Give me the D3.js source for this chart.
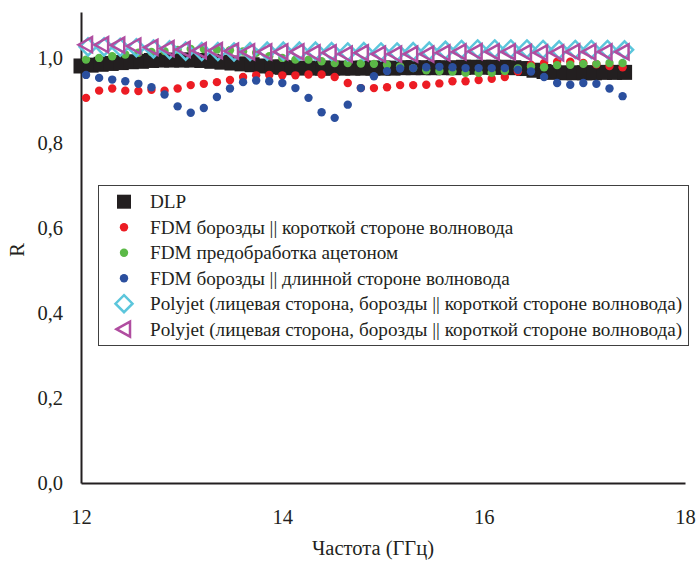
<!DOCTYPE html>
<html>
<head>
<meta charset="utf-8">
<script src="https://cdn.jsdelivr.net/npm/d3@7"></script>
<style>
  body { margin: 0; background: #fff; }
  text { font-family: "Liberation Serif", "DejaVu Serif", serif; fill: #231f20; }
</style>
</head>
<body>
<div id="chart"></div>
<script>
// частоты, ГГц
const dlpFreq = [12.0, 12.1, 12.2, 12.3, 12.4, 12.5, 12.6, 12.7, 12.8, 12.9,
	13.0, 13.1, 13.2, 13.3, 13.4, 13.5, 13.6, 13.7, 13.8, 13.9,
	14.0, 14.1, 14.2, 14.3, 14.4, 14.5, 14.6, 14.7, 14.8, 14.9,
	15.0, 15.1, 15.2, 15.3, 15.4, 15.5, 15.6, 15.7, 15.8, 15.9,
	16.0, 16.1, 16.2, 16.3, 16.4, 16.5, 16.6, 16.7, 16.8, 16.9,
	17.0, 17.1, 17.2, 17.3, 17.4];
const dlpR = [0.981, 0.983, 0.985, 0.987, 0.989, 0.991, 0.992, 0.994, 0.995, 0.995,
	0.995, 0.995, 0.994, 0.992, 0.990, 0.988, 0.986, 0.984, 0.981, 0.979,
	0.978, 0.977, 0.976, 0.976, 0.976, 0.976, 0.976, 0.976, 0.976, 0.976,
	0.976, 0.976, 0.977, 0.977, 0.977, 0.977, 0.977, 0.977, 0.978, 0.978,
	0.978, 0.978, 0.978, 0.977, 0.975, 0.971, 0.968, 0.966, 0.965, 0.965,
	0.965, 0.965, 0.966, 0.966, 0.966];

const fdmFreq = [12.05, 12.18, 12.31, 12.44, 12.57, 12.70, 12.83, 12.96, 13.09, 13.22,
	13.35, 13.48, 13.61, 13.74, 13.87, 14.00, 14.13, 14.26, 14.39, 14.52,
	14.65, 14.78, 14.91, 15.04, 15.17, 15.30, 15.43, 15.56, 15.69, 15.82,
	15.95, 16.08, 16.21, 16.34, 16.47, 16.60, 16.73, 16.86, 16.99, 17.12,
	17.25, 17.38];
const fdmShortR = [0.906, 0.923, 0.928, 0.923, 0.922, 0.925, 0.923, 0.928, 0.936, 0.939,
	0.943, 0.948, 0.955, 0.959, 0.960, 0.959, 0.959, 0.961, 0.961, 0.955,
	0.941, 0.929, 0.929, 0.931, 0.936, 0.936, 0.937, 0.940, 0.945, 0.945,
	0.948, 0.951, 0.955, 0.968, 0.984, 0.988, 0.991, 0.991, 0.988, 0.985,
	0.981, 0.978];
const fdmAcetoneR = [0.996, 1.000, 1.004, 1.008, 1.012, 1.014, 1.016, 1.019, 1.021, 1.021,
	1.020, 1.018, 1.015, 1.012, 1.004, 1.000, 0.996, 0.996, 0.992, 0.988,
	0.988, 0.987, 0.986, 0.984, 0.980, 0.976, 0.971, 0.969, 0.968, 0.965,
	0.965, 0.965, 0.969, 0.975, 0.980, 0.978, 0.983, 0.984, 0.986, 0.986,
	0.988, 0.988];
const fdmLongR = [0.960, 0.953, 0.949, 0.945, 0.939, 0.931, 0.914, 0.886, 0.871, 0.882,
	0.908, 0.928, 0.943, 0.947, 0.945, 0.941, 0.929, 0.906, 0.872, 0.859,
	0.890, 0.929, 0.957, 0.969, 0.975, 0.976, 0.978, 0.979, 0.978, 0.976,
	0.976, 0.976, 0.976, 0.972, 0.968, 0.955, 0.941, 0.937, 0.941, 0.939,
	0.928, 0.910];

const polyFreq = [12.05, 12.21, 12.37, 12.53, 12.70, 12.86, 13.02, 13.18, 13.34, 13.50,
	13.66, 13.83, 13.99, 14.15, 14.31, 14.47, 14.63, 14.79, 14.96, 15.12,
	15.28, 15.44, 15.60, 15.76, 15.92, 16.09, 16.25, 16.41, 16.57, 16.73,
	16.89, 17.05, 17.21, 17.38];
const polyDiamondR = [1.026, 1.026, 1.025, 1.024, 1.021, 1.019, 1.016, 1.015, 1.015, 1.014,
	1.015, 1.016, 1.016, 1.016, 1.016, 1.015, 1.014, 1.015, 1.014, 1.014,
	1.015, 1.016, 1.018, 1.020, 1.021, 1.021, 1.021, 1.021, 1.020, 1.019,
	1.020, 1.020, 1.020, 1.019];
const polyTriangleR = [1.031, 1.031, 1.030, 1.028, 1.025, 1.022, 1.020, 1.017, 1.017, 1.016,
	1.014, 1.014, 1.014, 1.014, 1.012, 1.012, 1.009, 1.012, 1.009, 1.009,
	1.009, 1.009, 1.012, 1.014, 1.015, 1.014, 1.014, 1.013, 1.012, 1.012,
	1.014, 1.014, 1.014, 1.014];

const legendLabels = [
	"DLP",
	"FDM борозды || короткой стороне волновода",
	"FDM предобработка ацетоном",
	"FDM борозды || длинной стороне волновода",
	"Polyjet (лицевая сторона, борозды || короткой стороне волновода)",
	"Polyjet (лицевая сторона, борозды || короткой стороне волновода)"
];
const xTicks = [12, 14, 16, 18];
const yTicks = [0, 0.2, 0.4, 0.6, 0.8, 1.0];

const width = 696, height = 570;
const ink = "#231f20";
const colors = { red: "#ec1c24", green: "#5bb947", blue: "#2b4f9e", cyan: "#5cc6dc", magenta: "#b04da0" };

const svg = d3.select("#chart").append("svg")
	.attr("width", width)
	.attr("height", height);

const x = d3.scaleLinear().domain([12, 18]).range([81, 685]);
const y = d3.scaleLinear().domain([0, 1.108]).range([483, 12]);

const comma = v => d3.format(".1f")(v).replace(".", ",");

// оси
const gx = svg.append("g")
	.attr("transform", "translate(0," + y(0) + ")")
	.call(d3.axisBottom(x).tickValues(xTicks).tickSize(0).tickPadding(26).tickFormat(d3.format("d")));
const gy = svg.append("g")
	.attr("transform", "translate(" + x(12) + ",0)")
	.call(d3.axisLeft(y).tickValues(yTicks).tickSize(0).tickPadding(18).tickFormat(comma));

[gx, gy].forEach(g => {
	g.select(".domain").attr("stroke", ink).attr("stroke-width", 2);
	g.selectAll("text").attr("font-size", 20.5).attr("font-family", "Liberation Serif").attr("fill", ink);
});

svg.append("text")
	.attr("x", 373).attr("y", 555)
	.attr("text-anchor", "middle")
	.attr("font-size", 20.5)
	.text("Частота (ГГц)");

svg.append("text")
	.attr("transform", "translate(24,250) rotate(-90)")
	.attr("text-anchor", "middle")
	.attr("font-size", 20.5)
	.text("R");

// данные
const plot = svg.append("g");

const sq = 15;
plot.selectAll(".dlp")
	.data(dlpFreq.map((f, i) => [f, dlpR[i]]))
	.enter().append("rect")
	.attr("x", d => x(d[0]) - sq / 2)
	.attr("y", d => y(d[1]) - sq / 2)
	.attr("width", sq).attr("height", sq)
	.attr("fill", ink);

function dots(values, color) {
	plot.append("g").selectAll("circle")
		.data(fdmFreq.map((f, i) => [f, values[i]]))
		.enter().append("circle")
		.attr("cx", d => x(d[0]))
		.attr("cy", d => y(d[1]))
		.attr("r", 4.2)
		.attr("fill", color);
}
dots(fdmShortR, colors.red);
dots(fdmAcetoneR, colors.green);
dots(fdmLongR, colors.blue);

const diamondPath = "M0,-8.5L8.5,0L0,8.5L-8.5,0Z";
const trianglePath = "M-7.5,0L6,-7.5L6,7.5Z";

plot.append("g").selectAll("path")
	.data(polyFreq.map((f, i) => [f, polyDiamondR[i]]))
	.enter().append("path")
	.attr("d", diamondPath)
	.attr("transform", d => "translate(" + (x(d[0]) + 2) + "," + y(d[1]) + ")")
	.attr("fill", "none")
	.attr("stroke", colors.cyan)
	.attr("stroke-width", 2.5);

plot.append("g").selectAll("path")
	.data(polyFreq.map((f, i) => [f, polyTriangleR[i]]))
	.enter().append("path")
	.attr("d", trianglePath)
	.attr("transform", d => "translate(" + x(d[0]) + "," + y(d[1]) + ")")
	.attr("fill", "none")
	.attr("stroke", colors.magenta)
	.attr("stroke-width", 2.5);

// легенда
const legend = svg.append("g");
legend.append("rect")
	.attr("x", 98.5).attr("y", 185.5)
	.attr("width", 590).attr("height", 160)
	.attr("fill", "#fff")
	.attr("stroke", "#404040")
	.attr("stroke-width", 1);

const rowY = i => 201.7 + i * 25.5;
const mx = 124;

legend.append("rect")
	.attr("x", mx - 7).attr("y", rowY(0) - 7)
	.attr("width", 14).attr("height", 14)
	.attr("fill", ink);
[colors.red, colors.green, colors.blue].forEach((c, k) => {
	legend.append("circle")
		.attr("cx", mx).attr("cy", rowY(k + 1))
		.attr("r", 4.2)
		.attr("fill", c);
});
legend.append("path")
	.attr("d", diamondPath)
	.attr("transform", "translate(" + mx + "," + rowY(4) + ")")
	.attr("fill", "none").attr("stroke", colors.cyan).attr("stroke-width", 2.5);
legend.append("path")
	.attr("d", trianglePath)
	.attr("transform", "translate(" + mx + "," + rowY(5) + ")")
	.attr("fill", "none").attr("stroke", colors.magenta).attr("stroke-width", 2.5);

legend.selectAll(".lbl")
	.data(legendLabels)
	.enter().append("text")
	.attr("x", 150)
	.attr("y", (d, i) => rowY(i))
	.attr("dy", "0.35em")
	.attr("font-size", 19.2)
	.text(d => d);
</script>
</body>
</html>
